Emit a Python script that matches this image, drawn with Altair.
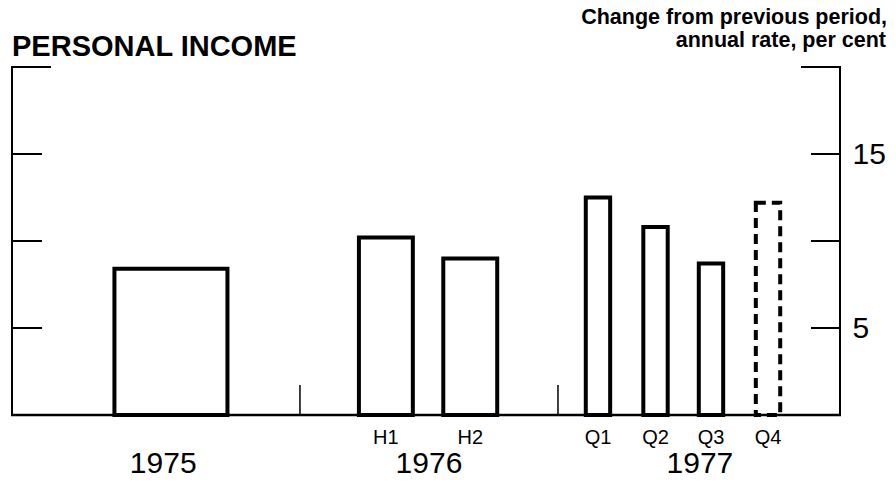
import altair as alt
import pandas as pd

# ---- data ----
periods = ["1975", "1976 H1", "1976 H2", "1977 Q1", "1977 Q2", "1977 Q3", "1977 Q4"]
period_labels = ["", "H1", "H2", "Q1", "Q2", "Q3", "Q4"]
period_centers = [1975.50, 1976.333, 1976.66, 1977.155, 1977.378, 1977.593, 1977.814]
period_lengths = [1.0, 0.5, 0.5, 0.25, 0.25, 0.25, 0.25]
values = [8.4, 10.2, 9.0, 12.5, 10.8, 8.7, 12.2]
estimated = [False, False, False, False, False, False, True]

years = ["1975", "1976", "1977"]
year_centers = [1975.47, 1976.5, 1977.55]
year_breaks = [1976, 1977]
y_ticks = [5, 10, 15]
y_labels = [5, 15]

title_text = "PERSONAL INCOME"
unit_lines = ["Change from previous period,", "annual rate, per cent"]

# ---- layout ----
W, H = 828, 348
FONT = "Liberation Sans"

df = pd.DataFrame({
    "period": periods, "label": period_labels, "center": period_centers,
    "length": period_lengths, "value": values, "est": estimated,
})
years_df = pd.DataFrame({"year": years, "center": year_centers})
breaks_df = pd.DataFrame({"b": year_breaks})
ticks_df = pd.DataFrame({"t": y_ticks})

xscale = alt.Scale(domain=[1974.884, 1978.093], nice=False, zero=False)
yscale = alt.Scale(domain=[0, 20], nice=False, zero=True)

right_axis = alt.Axis(orient="right", values=y_labels, labels=True, ticks=False,
                      grid=False, domain=False, title=None, labelFont=FONT,
                      labelFontSize=30, labelColor="black", labelPadding=12,
                      labelBaseline="middle")

base_bars = alt.Chart(df).transform_calculate(
    hw="(0.458 * datum.length - 0.02) / 2"
).transform_calculate(
    x0="datum.center - datum.hw",
    x1="datum.center + datum.hw",
)

bars_actual = base_bars.transform_filter("!datum.est").mark_bar(
    fill="white", stroke="black", strokeWidth=4, strokeJoin="miter"
).encode(
    x=alt.X("x0:Q", scale=xscale, axis=None),
    x2="x1:Q",
    y=alt.Y("value:Q", scale=yscale, axis=right_axis),
    y2=alt.datum(0),
)

bars_est = base_bars.transform_filter("datum.est").mark_bar(
    fill="white", stroke="black", strokeWidth=4, strokeDash=[10, 6], strokeJoin="miter"
).encode(
    x=alt.X("x0:Q", scale=xscale),
    x2="x1:Q",
    y=alt.Y("value:Q", scale=yscale),
    y2=alt.datum(0),
)

left_ticks = alt.Chart(ticks_df).mark_rule(color="black", strokeWidth=2).encode(
    y=alt.Y("t:Q", scale=yscale),
    x=alt.value(0), x2=alt.value(30),
)

right_ticks = alt.Chart(ticks_df).mark_rule(color="black", strokeWidth=2).encode(
    y=alt.Y("t:Q", scale=yscale),
    x=alt.value(W - 29), x2=alt.value(W),
)

# frame: left and right verticals, baseline, top stubs
left_line = alt.Chart().mark_rule(color="black", strokeWidth=2).encode(
    x=alt.value(0), y=alt.value(-1), y2=alt.value(H)
)
right_line = alt.Chart().mark_rule(color="black", strokeWidth=2).encode(
    x=alt.value(W), y=alt.value(-1), y2=alt.value(H)
)
baseline = alt.Chart().mark_rule(color="black", strokeWidth=2.5).encode(
    y=alt.Y(datum=0, scale=yscale), x=alt.value(-1), x2=alt.value(W + 1)
)
stub_left = alt.Chart().mark_rule(color="black", strokeWidth=2).encode(
    x=alt.value(-1), x2=alt.value(39), y=alt.value(0)
)
stub_right = alt.Chart().mark_rule(color="black", strokeWidth=2).encode(
    x=alt.value(W - 39), x2=alt.value(W + 1), y=alt.value(0)
)

separators = alt.Chart(breaks_df).mark_rule(color="black", strokeWidth=1.5).encode(
    x=alt.X("b:Q", scale=xscale),
    y=alt.value(H), y2=alt.value(H - 30),
)

period_text = alt.Chart(df).mark_text(
    font=FONT, fontSize=20, baseline="alphabetic", align="center", color="black"
).encode(
    x=alt.X("center:Q", scale=xscale),
    y=alt.value(H + 29),
    text="label:N",
)

year_text = alt.Chart(years_df).mark_text(
    font=FONT, fontSize=30, baseline="alphabetic", align="center", color="black"
).encode(
    x=alt.X("center:Q", scale=xscale),
    y=alt.value(H + 58),
    text="year:N",
)

title = alt.Chart().mark_text(
    font=FONT, fontSize=29, fontWeight="bold", align="left", baseline="alphabetic",
    color="black"
).encode(x=alt.value(0), y=alt.value(-11), text=alt.value(title_text))

unit1 = alt.Chart().mark_text(
    font=FONT, fontSize=21.5, fontWeight="bold", align="right", baseline="alphabetic",
    color="black"
).encode(x=alt.value(W + 47), y=alt.value(-43), text=alt.value(unit_lines[0]))
unit2 = alt.Chart().mark_text(
    font=FONT, fontSize=21.5, fontWeight="bold", align="right", baseline="alphabetic",
    color="black"
).encode(x=alt.value(W + 46), y=alt.value(-20), text=alt.value(unit_lines[1]))

chart = alt.layer(
    bars_actual, bars_est, left_ticks, right_ticks, left_line, right_line,
    baseline, stub_left, stub_right, separators, period_text, year_text,
    title, unit1, unit2,
).properties(
    width=W, height=H, autosize="none",
    padding={"left": 4, "top": 59, "right": 48, "bottom": 62},
).configure(background="white").configure_view(stroke=None).configure_axisX(
    disable=True
)

chart.save("out.html", embed_options={"renderer": "svg", "actions": False})
